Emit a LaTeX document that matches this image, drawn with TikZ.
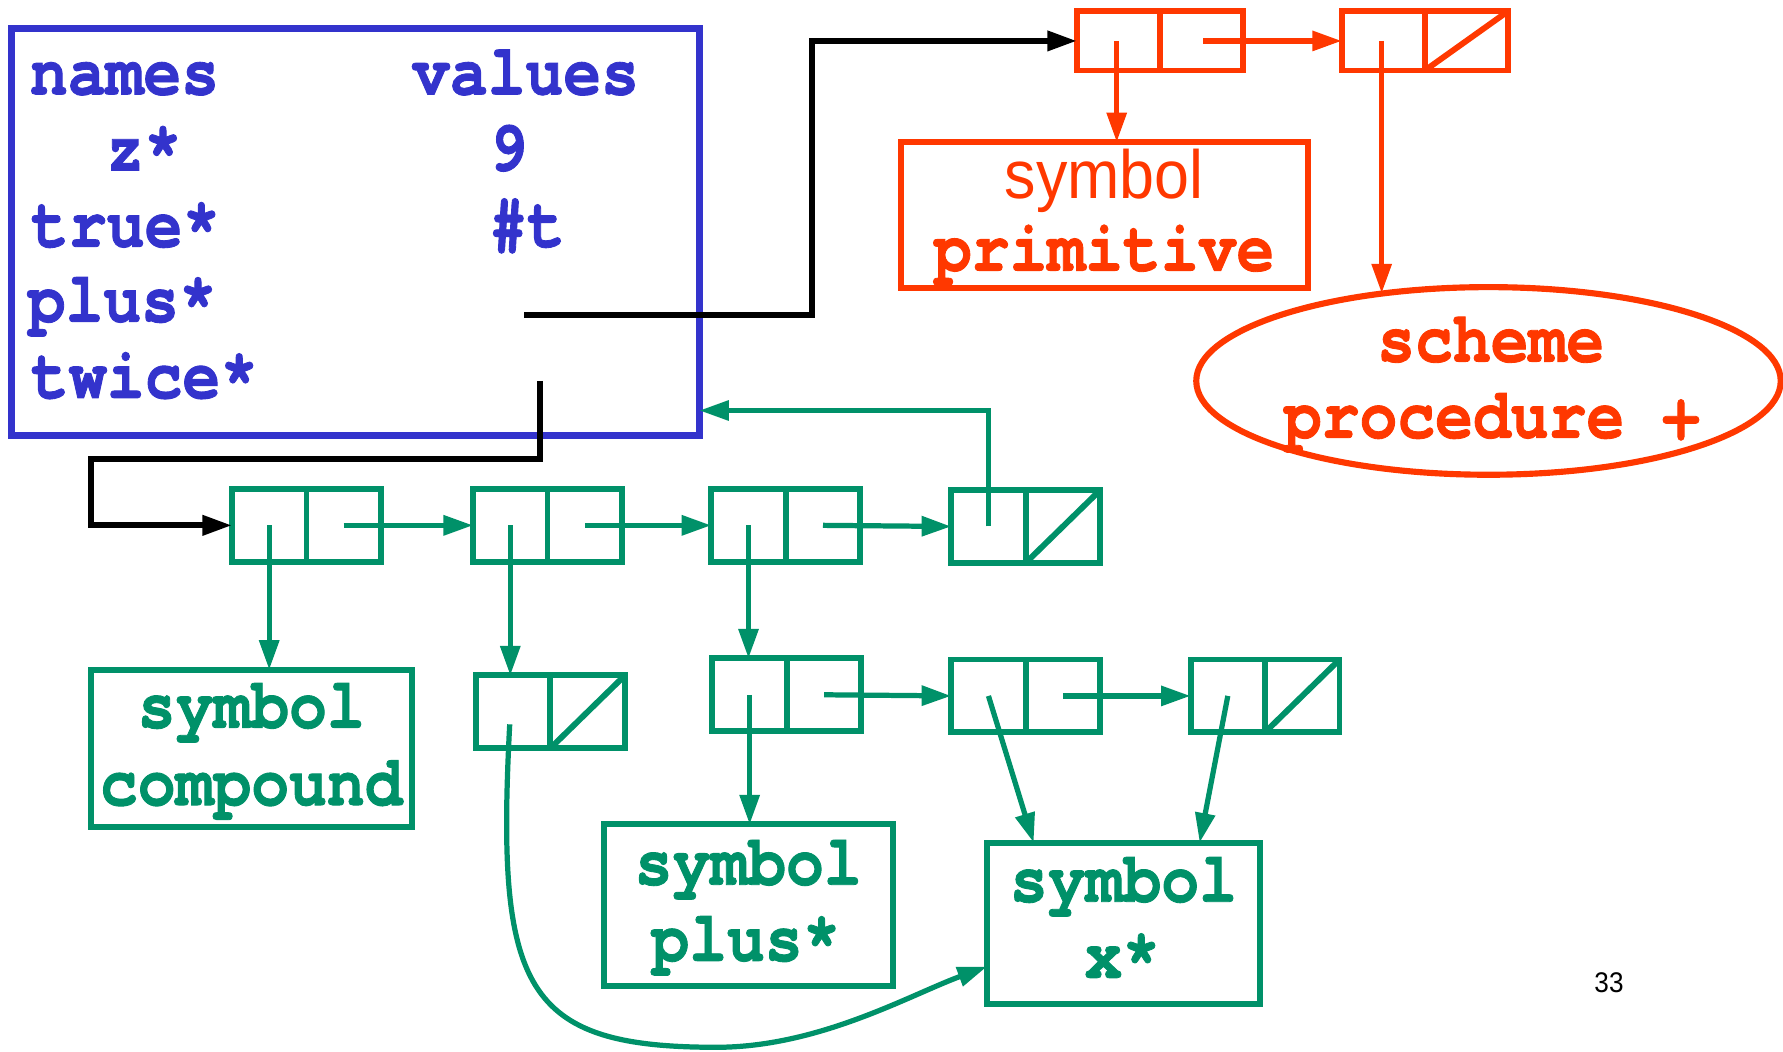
\documentclass[tikz,border=0pt]{standalone}
\usepackage{fontspec}
\usetikzlibrary{arrows.meta,calc,shapes.geometric}
\newfontfamily\monob{texgyrecursor}[Extension=.otf, UprightFont=*-bold, FakeStretch=0.88, FakeBold=1.2]
\newfontfamily\sansn{Liberation Sans}[FakeStretch=0.92]
\definecolor{envblue}{RGB}{51,51,204}
\definecolor{primred}{RGB}{255,56,0}
\definecolor{lispgreen}{RGB}{0,145,105}

\begin{document}
\begin{tikzpicture}[x=0.5pt,y=-0.5pt,
  mono/.style={font=\monob\fontsize{31.5}{36}\selectfont, inner sep=0pt},
  plain/.style={font=\sansn\fontsize{30}{34}\selectfont, inner sep=0pt},
  gcell/.style={draw=lispgreen, line width=2.6pt, minimum width=65.5pt, minimum height=32pt, inner sep=0pt, outer sep=0pt},
  rcell/.style={draw=primred, line width=2.6pt, minimum width=73pt, minimum height=26pt, inner sep=0pt, outer sep=0pt},
  gline/.style={draw=lispgreen, line width=2.6pt},
  rline/.style={draw=primred, line width=2.6pt},
  gbox/.style={draw=lispgreen, line width=2.7pt, inner sep=0pt, outer sep=0pt},
  head/.style={-{Triangle[length=13pt,width=8.5pt]}},
  gconn/.style={draw=lispgreen, line width=2.3pt, head},
  rconn/.style={draw=primred, line width=2.3pt, head},
  blk/.style={draw=black, line width=2.6pt, head}]
\useasboundingbox (0,0) rectangle (1568,925);

% ---- environment frame with its bindings ----
\node[draw=envblue, line width=2.8pt, minimum width=302.5pt, minimum height=179pt,
      inner sep=0pt, outer sep=0pt] (env) at (312.5,204) {};
\begin{scope}[every node/.style={mono, text=envblue, anchor=base west}]
  \node (hnames)  at (26,83)  {names};
  \node (hvalues) at (362,83) {values};
  \node (nz)      at (93,150) {z*};
  \node (vz)      at (430,150) {9};
  \node (ntrue)   at (27,217) {true*};
  \node (vtrue)   at (430,217) {\#t};
  \node (nplus)   at (24,283) {plus*};
  \node (ntwice)  at (27,350) {twice*};
\end{scope}
\coordinate (pv) at (461,277);
\coordinate (tv) at (475,335);

% ---- primitive procedure (red) ----
\node[rcell] (r1) at (1020,36) {};
\node[rcell] (r2) at (1253,36) {};
\draw[rline] (r1.north) -- (r1.south);
\draw[rline] (r2.north) -- (r2.south);
\draw[rline] (r2.south) -- (r2.north east);
\coordinate (r1car) at ($(r1.west)!0.24!(r1.east)$);
\coordinate (r1cdr) at ($(r1.west)!0.76!(r1.east)$);
\coordinate (r2car) at ($(r2.west)!0.24!(r2.east)$);

\node[draw=primred, line width=2.7pt, minimum width=179pt, minimum height=64pt,
      inner sep=0pt, outer sep=0pt] (prim) at (971,189) {};
\node[plain, text=primred, anchor=base] (primA) at ($(prim.north)+(0,50)$) {symbol};
\node[mono, text=primred, anchor=base] (primB) at ($(prim.north)+(0,113)$) {primitive};

\node[ellipse, draw=primred, line width=2.7pt, minimum width=257pt, minimum height=82.5pt,
      inner sep=0pt, outer sep=0pt] (ell) at (1309,335) {};
\node[mono, text=primred, anchor=base] (ellA) at ($(ell.center)+(2,-17)$) {scheme};
\node[mono, text=primred, anchor=base] (ellB) at ($(ell.center)+(3,50)$) {procedure +};

% ---- compound procedure (green) ----
\node[gcell] (g1) at (269.5,462) {};
\node[gcell] (g2) at (481.5,462) {};
\node[gcell] (g3) at (691,462) {};
\node[gcell] (g4) at (902,463) {};
\node[gcell] (g5) at (484,626) {};
\node[gcell] (g6) at (692,611) {};
\node[gcell] (g7) at (902,612) {};
\node[gcell] (g8) at (1112.5,612) {};
\foreach \c in {g1,g2,g3,g4,g5,g6,g7,g8}{
  \draw[gline] (\c.north) -- (\c.south);
  \coordinate (\c car) at ($(\c.west)!0.25!(\c.east)$);
  \coordinate (\c cdr) at ($(\c.west)!0.75!(\c.east)$);
}
\draw[gline] (g4.south) -- (g4.north east);
\draw[gline] (g5.south) -- (g5.north east);
\draw[gline] (g8.south) -- (g8.north east);

\node[gbox, minimum width=141pt, minimum height=69pt] (comp) at (221,658) {};
\node[mono, text=lispgreen, anchor=base] (compA) at ($(comp.north)+(0,51)$) {symbol};
\node[mono, text=lispgreen, anchor=base] (compB) at ($(comp.north)+(0,119)$) {compound};

\node[gbox, minimum width=127pt, minimum height=71pt] (plusb) at (658,796) {};
\node[mono, text=lispgreen, anchor=base] (plusA) at ($(plusb.north)+(0,53)$) {symbol};
\node[mono, text=lispgreen, anchor=base] (plusB) at ($(plusb.north)+(-2,120)$) {plus*};

\node[gbox, minimum width=120pt, minimum height=71pt] (xbox) at (988,812) {};
\node[mono, text=lispgreen, anchor=base] (xA) at ($(xbox.north)+(0,52)$) {symbol};
\node[mono, text=lispgreen, anchor=base] (xB) at ($(xbox.north)+(-1,119)$) {x*};

\node[font=\sansn\fontsize{12.5}{14}\selectfont, inner sep=0pt] (pg) at (1415,864) {33};

% ---- connectors ----
\draw[blk] (pv) -- (714,277) |- (r1.west);
\draw[blk] (tv) |- (80,404) |- (g1.west);

\draw[rconn] (r1car) -- (r1car |- prim.north);
\draw[rconn] (r1cdr) -- (r2.west);
\draw[rconn] (r2car) -- (r2car |- ell.140);

\coordinate (envin) at ($(env.south east)+(0,-22)$);
\coordinate (g5tail) at ($(g5car)+(-3,11)$);
\coordinate (xin) at ($(xbox.south west)+(0,-33)$);
\coordinate (xtopa) at ($(xbox.north west)+(41,0)$);
\coordinate (xtopb) at ($(xbox.north east)+(-53,0)$);

\draw[gconn] (g1car) -- (g1car |- comp.north);
\draw[gconn] (g1cdr) -- (g2.west);
\draw[gconn] (g2car) -- (g2car |- g5.north);
\draw[gconn] (g2cdr) -- (g3.west);
\draw[gconn] (g3car) -- (g3car |- g6.north);
\draw[gconn] (g3cdr) -- (g4.west);
\draw[gconn] (g4car) |- (envin);
\draw[gconn] (g5tail) .. controls (436,870) and (460,921) .. (630,921)
             .. controls (720,921) and (800,875) .. (xin);
\draw[gconn] (g6car) -- (g6car |- plusb.north);
\draw[gconn] (g6cdr) -- (g7.west);
\draw[gconn] (g7car) -- (xtopa);
\draw[gconn] (g7cdr) -- (g8.west);
\draw[gconn] (g8car) -- (xtopb);
\end{tikzpicture}
\end{document}
